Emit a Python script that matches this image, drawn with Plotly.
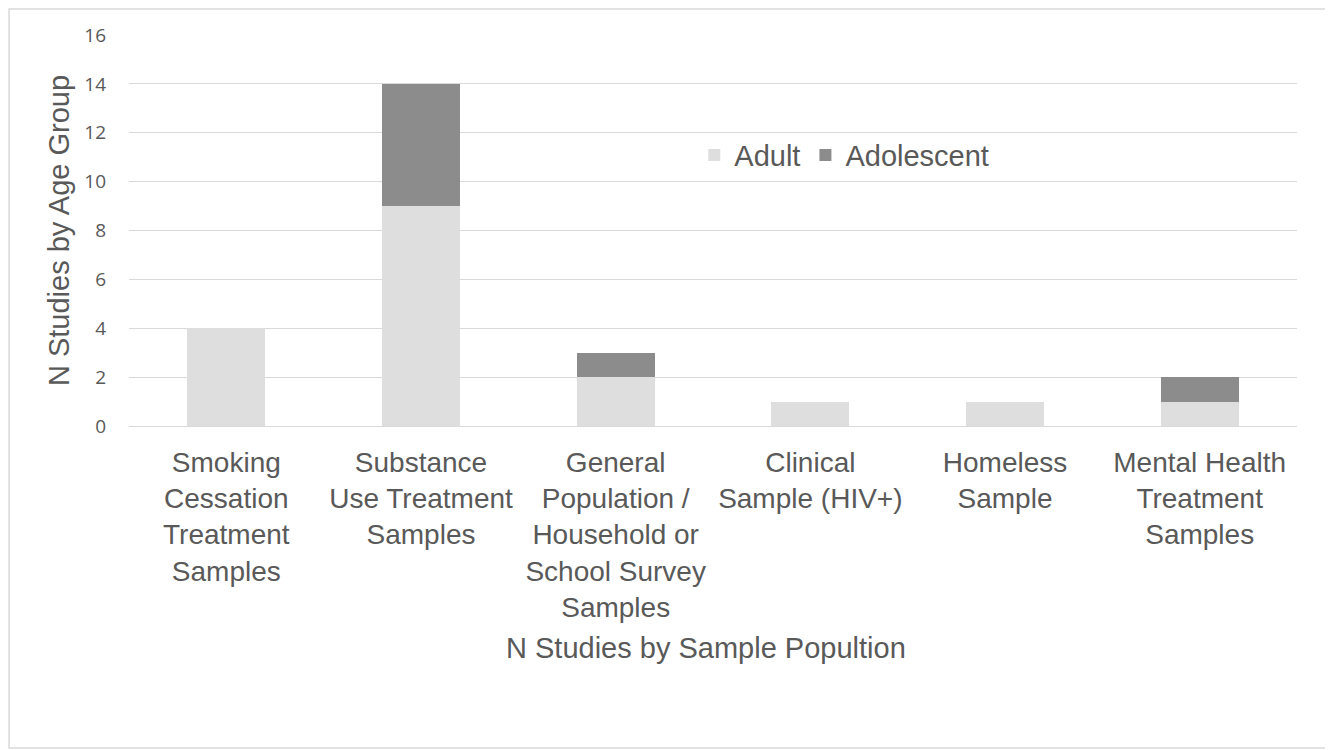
import plotly.graph_objects as go

categories = [
    "Smoking<br>Cessation<br>Treatment<br>Samples",
    "Substance<br>Use Treatment<br>Samples",
    "General<br>Population /<br>Household or<br>School Survey<br>Samples",
    "Clinical<br>Sample (HIV+)",
    "Homeless<br>Sample",
    "Mental Health<br>Treatment<br>Samples",
]
adult = [4, 9, 2, 1, 1, 1]
adolescent = [0, 5, 1, 0, 0, 1]
y_ticks = [0, 2, 4, 6, 8, 10, 12, 14, 16]

text_color = "#595959"
font_main = "Liberation Sans, Arial, sans-serif"

fig = go.Figure()
fig.add_trace(go.Bar(x=categories, y=adult, name="Adult",
                     marker=dict(color="#dedede", line=dict(width=0))))
fig.add_trace(go.Bar(x=categories, y=adolescent, name="Adolescent",
                     marker=dict(color="#8c8c8c", line=dict(width=0))))

fig.update_layout(
    width=1333, height=750,
    barmode="stack", bargap=0.6,
    paper_bgcolor="white", plot_bgcolor="white",
    margin=dict(l=121, r=44, t=27, b=332),
    font=dict(family=font_main, color=text_color, size=29),
    showlegend=True,
    legend=dict(orientation="h", x=0.484, y=0.693, xanchor="left", yanchor="middle",
                traceorder="normal",
                font=dict(size=29, color=text_color), bgcolor="rgba(0,0,0,0)",
                itemwidth=30, tracegroupgap=0),
    hovermode=False,
    xaxis=dict(showgrid=False, showline=True, linecolor="#d9d9d9", linewidth=1,
               ticks="", tickfont=dict(size=28, color=text_color), tickangle=0,
               ticklabelstandoff=11),
    yaxis=dict(range=[0, 16], tickvals=y_ticks, showgrid=True, gridcolor="#d9d9d9",
               gridwidth=1, zeroline=False, showline=False, ticks="",
               tickfont=dict(size=19, color=text_color, family="Open Sans, sans-serif"),
               ticklabelstandoff=22,
               title=dict(text="N Studies by Age Group", font=dict(size=29, color=text_color),
                          standoff=6)),
    annotations=[dict(text="N Studies by Sample Popultion", xref="paper", yref="paper",
                      x=0.494, y=-0.568, xanchor="center", yanchor="middle", showarrow=False,
                      font=dict(size=29, color=text_color))],
    shapes=[dict(type="rect", xref="paper", yref="paper", x0=-0.1027, x1=1.0248,
                 y0=-0.8235, y1=1.0665, line=dict(color="#d9d9d9", width=1.5),
                 fillcolor="rgba(0,0,0,0)", layer="below")],
)

fig.write_html("out.html")
